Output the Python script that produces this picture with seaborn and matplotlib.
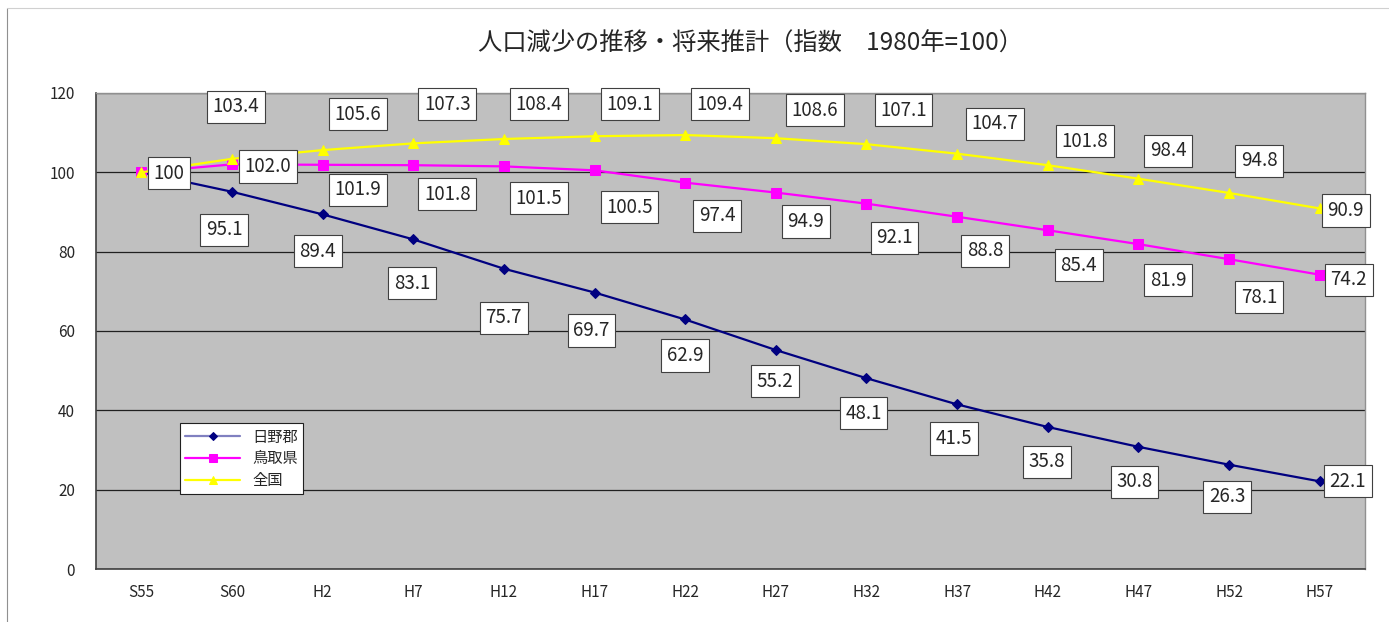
import numpy as np
import pandas as pd
import matplotlib
matplotlib.use("Agg")
import matplotlib.pyplot as plt
import seaborn as sns

# data (index, 1980 = 100)
periods = ["S55", "S60", "H2", "H7", "H12", "H17", "H22", "H27", "H32", "H37", "H42", "H47", "H52", "H57"]
hino = [100, 95.1, 89.4, 83.1, 75.7, 69.7, 62.9, 55.2, 48.1, 41.5, 35.8, 30.8, 26.3, 22.1]
tottori = [100, 102.0, 101.9, 101.8, 101.5, 100.5, 97.4, 94.9, 92.1, 88.8, 85.4, 81.9, 78.1, 74.2]
national = [100, 103.4, 105.6, 107.3, 108.4, 109.1, 109.4, 108.6, 107.1, 104.7, 101.8, 98.4, 94.8, 90.9]
series_names = ["日野郡", "鳥取県", "全国"]

sns.set_theme(style="white")
plt.rcParams['font.family'] = ['Noto Sans CJK JP', 'DejaVu Sans']

rows = []
for name, vals in zip(series_names, [hino, tottori, national]):
    for i, v in enumerate(vals):
        rows.append({"pos": i, "value": v, "series": name})
df = pd.DataFrame(rows)

colors = {"日野郡": "#000080", "鳥取県": "#FF00FF", "全国": "#FFFF00"}
markers = {"日野郡": "D", "鳥取県": "s", "全国": "^"}
msize = {"日野郡": 5, "鳥取県": 7, "全国": 7.5}

fig = plt.figure(figsize=(13.89, 6.22), dpi=100)
ax = fig.add_axes([0.0691, 0.0852, 0.9136, 0.7653])
ax.set_facecolor("#C0C0C0")

for name in series_names:
    sub = df[df["series"] == name]
    sns.lineplot(data=sub, x="pos", y="value", ax=ax, color=colors[name],
                 marker=markers[name], markersize=msize[name], markeredgecolor=colors[name],
                 linewidth=1.6, label=name, zorder=3)

# label offsets in pixels (label centre relative to point)
off_national = [None, (4, 52), (35, 36), (34, 39), (35, 35), (35, 32), (35, 31), (39, 28),
                (37, 34), (38, 30), (37, 24), (30, 28), (30, 32), (26, -2)]
off_tottori = [(28, -1), (36, -2), (35, -25), (34, -29), (35, -32), (35, -37), (32, -33),
               (30, -29), (28, -34), (28, -34), (31, -35), (30, -36), (30, -38), (29, -5)]
off_hino = [None, (-8, -38), (-5, -37), (-1, -44), (0, -49), (-3, -38), (0, -36), (-1, -31),
            (-3, -35), (-3, -34), (-1, -35), (-4, -35), (-2, -32), (28, 0)]

box = dict(boxstyle="square,pad=0.3", fc="white", ec="#404040", lw=0.8)
for vals, offs in [(national, off_national), (tottori, off_tottori), (hino, off_hino)]:
    for i, (v, o) in enumerate(zip(vals, offs)):
        if o is None:
            continue
        txt = "100" if i == 0 else f"{v:.1f}"
        ax.annotate(txt, (i, v), xytext=o, textcoords="offset pixels",
                    ha="center", va="center", fontsize=13.5, bbox=box, zorder=5)

ax.set_xlim(-0.5, len(periods) - 0.5)
ax.set_ylim(0, 120)
ax.set_yticks(np.arange(0, 121, 20))
ax.set_xticks(range(len(periods)))
ax.set_xticklabels(periods, fontsize=11)
ax.set_xticks(np.arange(-0.5, len(periods), 1), minor=True)
ax.tick_params(axis="x", which="major", length=0, pad=11)
ax.tick_params(axis="x", which="minor", length=5, color="#404040", direction="in")
ax.tick_params(axis="y", length=0, labelsize=11, pad=15)
ax.grid(axis="y", color="#202020", linewidth=0.9)
ax.set_axisbelow(True)
ax.set_xlabel("")
ax.set_ylabel("")
for s in ["left", "bottom"]:
    ax.spines[s].set_color("#404040")
    ax.spines[s].set_linewidth(1.2)
for s in ["top", "right"]:
    ax.spines[s].set_color("#909090")
    ax.spines[s].set_linewidth(1.0)

leg = ax.legend(loc="upper left", bbox_to_anchor=(0.06, 0.322), fontsize=11,
                frameon=True, fancybox=False, edgecolor="#202020", framealpha=1,
                borderpad=0.35, labelspacing=0.3, handlelength=3.6, markerscale=0.8)
leg.get_frame().set_linewidth(0.8)
leg.get_lines()[0].set_color("#8080c0")
leg.get_lines()[0].set_markerfacecolor("#000080")
leg.get_lines()[0].set_markeredgecolor("#000080")

fig.suptitle("人口減少の推移・将来推計（指数　1980年=100）", x=0.54, y=0.95, fontsize=17.5)

# outer chart frame (left and top edges visible)
fig.add_artist(plt.Line2D([7 / 1389, 7 / 1389], [0, 1 - 8 / 622], color="#909090", lw=0.8))
fig.add_artist(plt.Line2D([7 / 1389, 1], [1 - 8 / 622, 1 - 8 / 622], color="#d0d0d0", lw=0.8))

fig.savefig("out.png", dpi=100)
